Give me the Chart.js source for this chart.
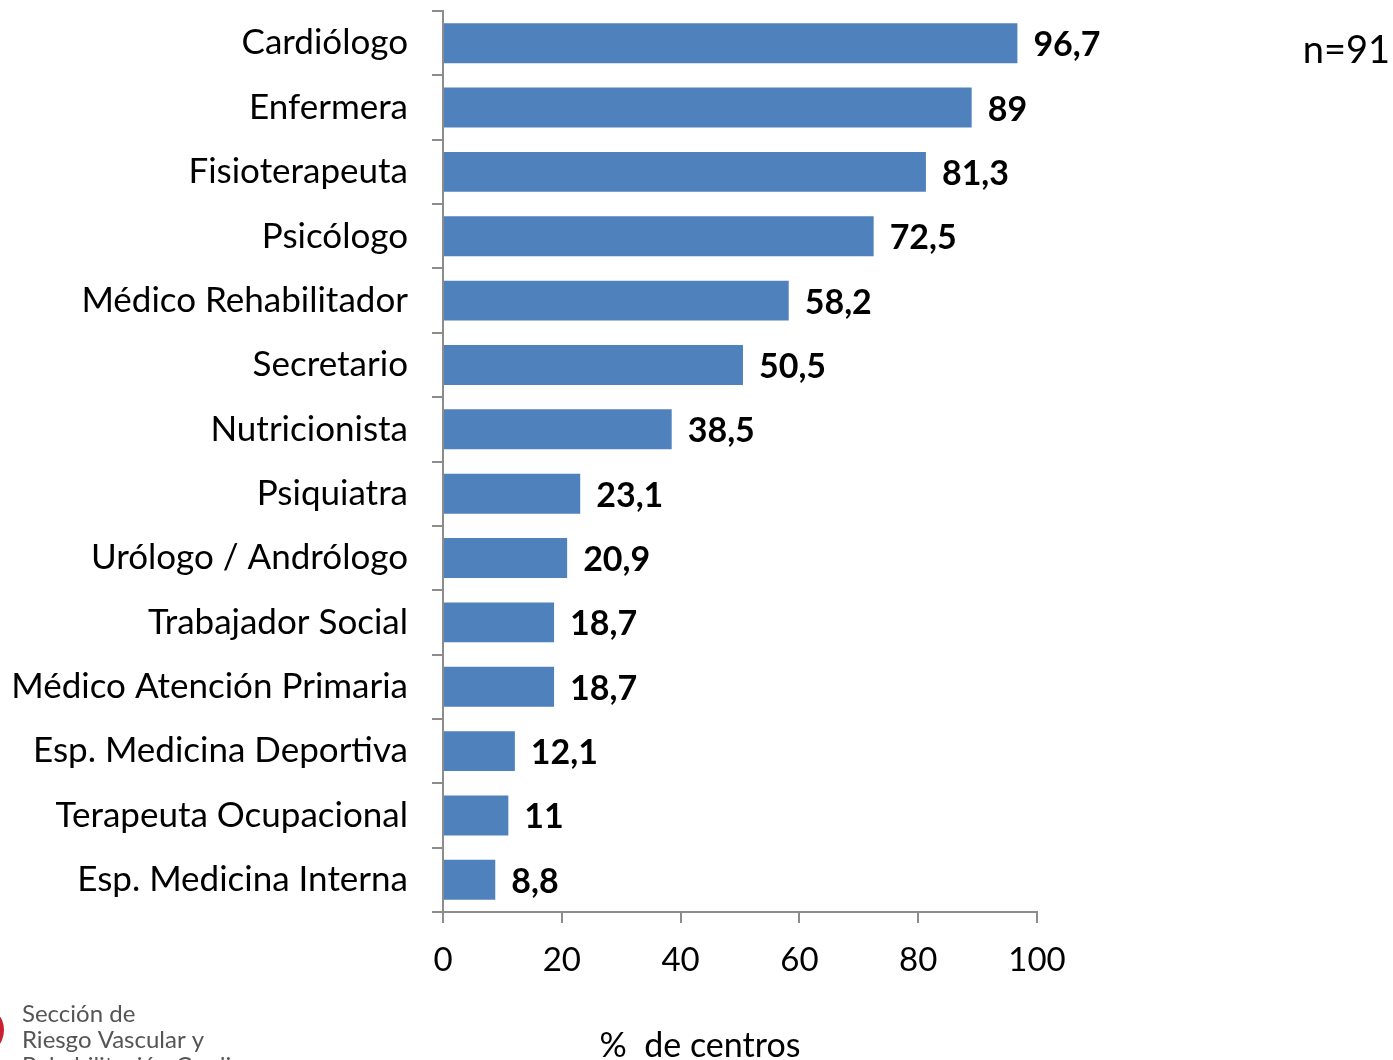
<!DOCTYPE html>
<html>
<head>
<meta charset="utf-8">
<script src="https://cdn.jsdelivr.net/npm/chart.js@4/dist/chart.umd.min.js"></script>
<style>
  html, body { margin: 0; padding: 0; background: #fff; }
</style>
</head>
<body>
<canvas id="chart" width="1393" height="1060"></canvas>
<script>
const categories = [
  'Cardiólogo', 'Enfermera', 'Fisioterapeuta', 'Psicólogo', 'Médico Rehabilitador',
  'Secretario', 'Nutricionista', 'Psiquiatra', 'Urólogo / Andrólogo', 'Trabajador Social',
  'Médico Atención Primaria', 'Esp. Medicina Deportiva', 'Terapeuta Ocupacional', 'Esp. Medicina Interna'
];
const percentCentros = [96.7, 89, 81.3, 72.5, 58.2, 50.5, 38.5, 23.1, 20.9, 18.7, 18.7, 12.1, 11, 8.8];
const xTicks = [0, 20, 40, 60, 80, 100];
const axisTitle = '%  de centros';
const sampleNote = 'n=91';
const logoLines = ['Sección de', 'Riesgo Vascular y', 'Rehabilitación Cardiaca'];

const FONT = 'Lato, "Open Sans", sans-serif';
const BAR_COLOR = '#4F81BD';
const AXIS_COLOR = '#8c8c8c';

function formatValue(v) {
  return String(v).replace('.', ',');
}

// etiquetas de valor al final de cada barra + textos sueltos
const extrasPlugin = {
  id: 'extras',
  afterDatasetsDraw(chart) {
    const { ctx } = chart;
    const meta = chart.getDatasetMeta(0);
    ctx.save();
    ctx.fillStyle = '#000';
    ctx.font = 'bold 34px ' + FONT;
    ctx.textAlign = 'left';
    ctx.textBaseline = 'middle';
    meta.data.forEach((bar, i) => {
      ctx.fillText(formatValue(percentCentros[i]), bar.x + 16, bar.y + 2);
    });

    ctx.font = '34px ' + FONT;
    ctx.textAlign = 'center';
    ctx.textBaseline = 'alphabetic';
    ctx.fillText(axisTitle, 700, 1057);

    ctx.font = '38px ' + FONT;
    ctx.textAlign = 'right';
    ctx.fillText(sampleNote, 1390, 63);

    // logo (cortado por abajo)
    ctx.fillStyle = '#c8202f';
    ctx.beginPath();
    ctx.arc(-22, 1030, 26, -Math.PI / 2, Math.PI / 2);
    ctx.fill();
    ctx.fillStyle = '#555';
    ctx.font = '24px ' + FONT;
    ctx.textAlign = 'left';
    logoLines.forEach((line, i) => {
      ctx.fillText(line, 22, 1022 + i * 26);
    });
    ctx.restore();
  }
};

new Chart(document.getElementById('chart'), {
  type: 'bar',
  data: {
    labels: categories,
    datasets: [{
      data: percentCentros,
      backgroundColor: BAR_COLOR,
      borderWidth: 0,
      categoryPercentage: 1,
      barPercentage: 0.62
    }]
  },
  options: {
    indexAxis: 'y',
    responsive: false,
    animation: false,
    devicePixelRatio: 1,
    layout: { padding: { top: 11, right: 356, left: 0, bottom: 0 } },
    plugins: { legend: { display: false }, tooltip: { enabled: false } },
    scales: {
      x: {
        min: 0,
        max: 100,
        afterBuildTicks(scale) {
          scale.ticks = xTicks.map(v => ({ value: v }));
        },
        afterFit(scale) { scale.height = 148; scale.paddingLeft = 0; scale.paddingRight = 0; },
        border: { display: true, color: AXIS_COLOR, width: 2 },
        grid: { drawOnChartArea: false, drawTicks: true, tickLength: 11, color: AXIS_COLOR, lineWidth: 2 },
        ticks: { color: '#000', font: { family: FONT, size: 33 }, padding: 18, maxRotation: 0 }
      },
      y: {
        afterFit(scale) { scale.width = 443; scale.paddingTop = 0; scale.paddingBottom = 0; },
        border: { display: true, color: AXIS_COLOR, width: 2 },
        grid: { drawOnChartArea: false, drawTicks: true, tickLength: 11, color: AXIS_COLOR, lineWidth: 2, offset: true },
        ticks: { color: '#000', font: { family: FONT, size: 35 }, padding: 24, autoSkip: false }
      }
    }
  },
  plugins: [extrasPlugin]
});
</script>
</body>
</html>
